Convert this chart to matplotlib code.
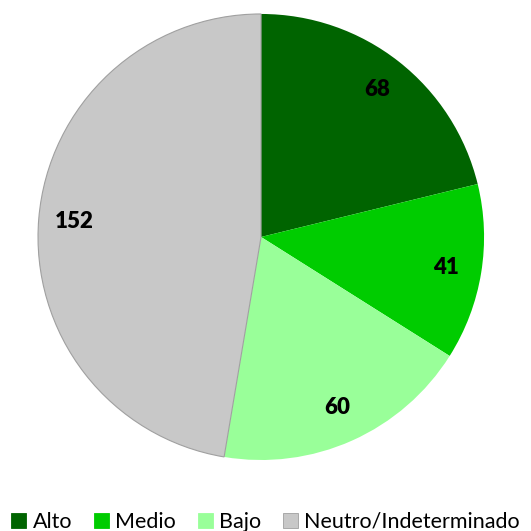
import matplotlib.pyplot as plt

labels = ["Alto", "Medio", "Bajo", "Neutro/Indeterminado"]
values = [68, 41, 60, 152]
colors = ["#006400", "#00CC00", "#99FF99", "#C8C8C8"]

plt.rcParams['font.family'] = ['Lato', 'DejaVu Sans']

fig = plt.figure(figsize=(5.31, 5.31), dpi=100)
ax = fig.add_axes([0.0716, 0.1337, 0.84, 0.84])

wedges, texts = ax.pie(values, colors=colors, startangle=90, counterclock=False,
                       labels=[str(v) for v in values], labeldistance=0.84,
                       textprops=dict(fontsize=16, fontweight='heavy', color='black',
                                      ha='center', va='center'))
wedges[3].set_edgecolor('#A0A0A0')
wedges[3].set_linewidth(0.8)
ax.set_xlim(-1, 1)
ax.set_ylim(-1, 1)
ax.set_aspect('equal')

handles = [plt.Rectangle((0, 0), 1, 1, facecolor=c,
                         edgecolor='#A0A0A0' if i == 3 else c, linewidth=0.6)
           for i, c in enumerate(colors)]
fig.legend(handles, labels, loc='lower left', bbox_to_anchor=(0.005, -0.018), ncol=4,
           frameon=False, fontsize=15.5, handlelength=0.7, handleheight=0.7,
           handletextpad=0.3, columnspacing=1.0, borderaxespad=0)

fig.savefig("out.png", dpi=100)
